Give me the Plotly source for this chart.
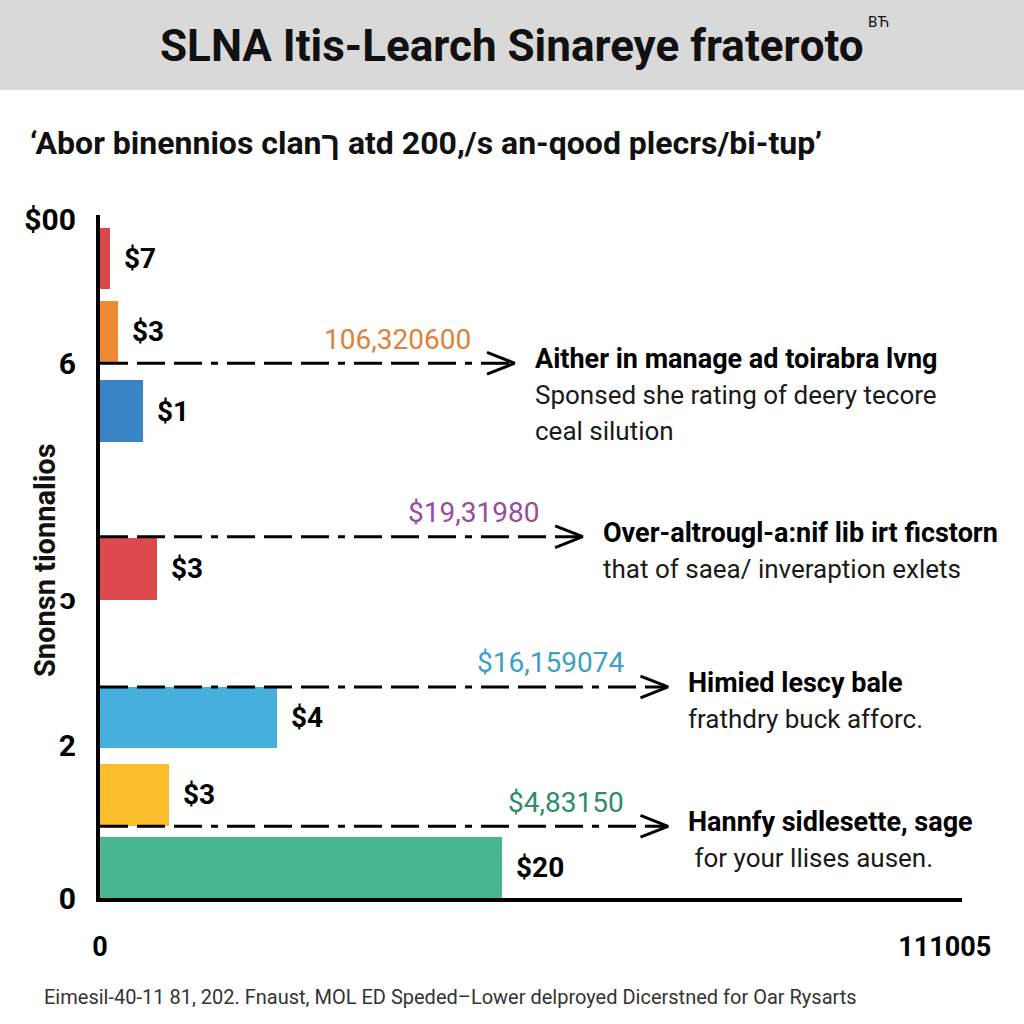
import plotly.graph_objects as go

# texts
title = "SLNA Itis-Learch Sinareye fraterоto"
title_mark = "BЋ"
subtitle = "‘Abor binennios clanך atd 200,/s an-qood plecrs/bi-tup’"
y_title = "Snonsn tionnalios"
footer = "Eimesil-40-11 81, 202. Fnaust, MOL ED Speded–Lower delproyed Dicerstned for Oar Rysarts"

# bars (top to bottom)
bar_slots = [9.36, 8.29, 7.13, 4.82, 2.64, 1.51, 0.44]
bar_values = [1.2, 2.1, 5.0, 6.6, 20.5, 8.0, 46.6]
bar_labels = ["$7", "$3", "$1", "$3", "$4", "$3", "$20"]
bar_colors = ["#d9474b", "#f08a32", "#3a84c6", "#dc4a4d", "#46afdd", "#fbbd2b", "#49b68f"]

# dashed callouts
callout_levels = [7.83, 5.29, 3.09, 1.05]
callout_ends = [48.1, 56.0, 65.9, 65.9]
callout_values = ["106,320600", "$19,31980", "$16,159074", "$4,83150"]
callout_colors = ["#e0813a", "#9b4a9e", "#3c9fc6", "#2f8c68"]
callout_heads = ["Aither in manage ad toirabra lvng",
                 "Over-altrougl-a:nif lib irt ficstorn",
                 "Himied lescy bale",
                 "Hannfy sidlesette, sage"]
callout_notes = [["Sponsed she rating of deery tecore", "ceal silution"],
                 ["that of saea/ inveraption exlets"],
                 ["frathdry buck afforc."],
                 [" for your llises ausen."]]

ytick_vals = [0, 2.24, 4.39, 7.83, 9.93]
ytick_text = ["0", "2", "ɔ", "6", "$00"]
xtick_vals = [0, 98]
xtick_text = ["0", "111005"]

FONT = "Roboto, Liberation Sans, Arial, sans-serif"

fig = go.Figure()

fig.add_trace(go.Bar(
    x=bar_values, y=bar_slots, orientation="h", width=0.9,
    marker=dict(color=bar_colors, line=dict(width=0)),
    showlegend=False, hoverinfo="skip"))

# dashed leader lines + chevron heads
for lvl, end in zip(callout_levels, callout_ends):
    fig.add_trace(go.Scatter(
        x=[0, end - 0.3], y=[lvl, lvl], mode="lines",
        line=dict(color="black", width=3, dash="28px,9px,28px,9px,28px,9px,7px,9px"),
        showlegend=False, hoverinfo="skip"))
    fig.add_trace(go.Scatter(
        x=[end - 3.2, end, end - 3.2], y=[lvl + 0.16, lvl, lvl - 0.16], mode="lines",
        line=dict(color="black", width=3),
        showlegend=False, hoverinfo="skip"))

annotations = []

for slot, val, lab in zip(bar_slots, bar_values, bar_labels):
    annotations.append(dict(
        x=val, y=slot, xref="x", yref="y", text="<b>" + lab + "</b>", showarrow=False,
        xanchor="left", yanchor="middle", xshift=12,
        font=dict(family=FONT, size=28, color="black")))

for lvl, end, v, c, head, notes in zip(callout_levels, callout_ends, callout_values,
                                       callout_colors, callout_heads, callout_notes):
    annotations.append(dict(
        x=end, y=lvl, xref="x", yref="y", text=v, showarrow=False,
        xanchor="right", yanchor="middle", xshift=-42, yshift=24,
        font=dict(family=FONT, size=28, color=c)))
    annotations.append(dict(
        x=end, y=lvl, xref="x", yref="y", text="<b>" + head + "</b>", showarrow=False,
        xanchor="left", yanchor="middle", xshift=18, yshift=4,
        font=dict(family=FONT, size=27, color="black")))
    for i, note in enumerate(notes):
        annotations.append(dict(
            x=end, y=lvl, xref="x", yref="y", text=note, showarrow=False,
            xanchor="left", yanchor="middle", xshift=18, yshift=4 - 36 * (i + 1),
            font=dict(family=FONT, size=26, color="#1a1a1a")))

# titles etc
annotations.append(dict(
    x=0.5, y=1 - 46 / 1024, xref="paper", yref="paper", text="<b>" + title + "</b>",
    showarrow=False, xanchor="center", yanchor="middle",
    font=dict(family=FONT, size=44, color="#111111")))
annotations.append(dict(
    x=866 / 1024, y=1 - 22 / 1024, xref="paper", yref="paper", text=title_mark,
    showarrow=False, xanchor="left", yanchor="middle",
    font=dict(family=FONT, size=15, color="#111111")))
annotations.append(dict(
    x=28 / 1024, y=1 - 143 / 1024, xref="paper", yref="paper", text="<b>" + subtitle + "</b>",
    showarrow=False, xanchor="left", yanchor="middle",
    font=dict(family=FONT, size=32, color="#111111")))
annotations.append(dict(
    x=45 / 1024, y=1 - 560 / 1024, xref="paper", yref="paper", text="<b>" + y_title + "</b>",
    showarrow=False, xanchor="center", yanchor="middle", textangle=-90,
    font=dict(family=FONT, size=29, color="#111111")))
annotations.append(dict(
    x=42 / 1024, y=1 - 997 / 1024, xref="paper", yref="paper", text=footer,
    showarrow=False, xanchor="left", yanchor="middle",
    font=dict(family=FONT, size=20, color="#333333")))

fig.update_layout(
    width=1024, height=1024,
    margin=dict(l=0, r=0, t=0, b=0, autoexpand=False),
    paper_bgcolor="white", plot_bgcolor="white",
    bargap=0,
    annotations=annotations,
    shapes=[dict(type="rect", xref="paper", yref="paper", x0=0, x1=1,
                 y0=1 - 90 / 1024, y1=1, fillcolor="#d9d9d9", line=dict(width=0),
                 layer="below")],
    xaxis=dict(domain=[100 / 1024, 962 / 1024], range=[0, 100], automargin=False,
               showgrid=False, zeroline=False, showline=True, linecolor="black", linewidth=4,
               tickvals=xtick_vals, ticktext=xtick_text, ticks="",
               ticklabelstandoff=22,
               tickfont=dict(family=FONT, size=27, color="black", weight="bold")),
    yaxis=dict(domain=[(1024 - 898) / 1024, (1024 - 215) / 1024], range=[0, 10], automargin=False,
               showgrid=False, zeroline=False, showline=True, linecolor="black", linewidth=4,
               tickvals=ytick_vals, ticktext=ytick_text, ticks="",
               ticklabelstandoff=14,
               tickfont=dict(family=FONT, size=30, color="black", weight="bold")),
)

# page margin off so the 1024px figure sits flush in the window
fig.write_html("out.html", config={"displayModeBar": False},
               post_script="document.body.style.margin='0';document.body.style.overflow='hidden';")
